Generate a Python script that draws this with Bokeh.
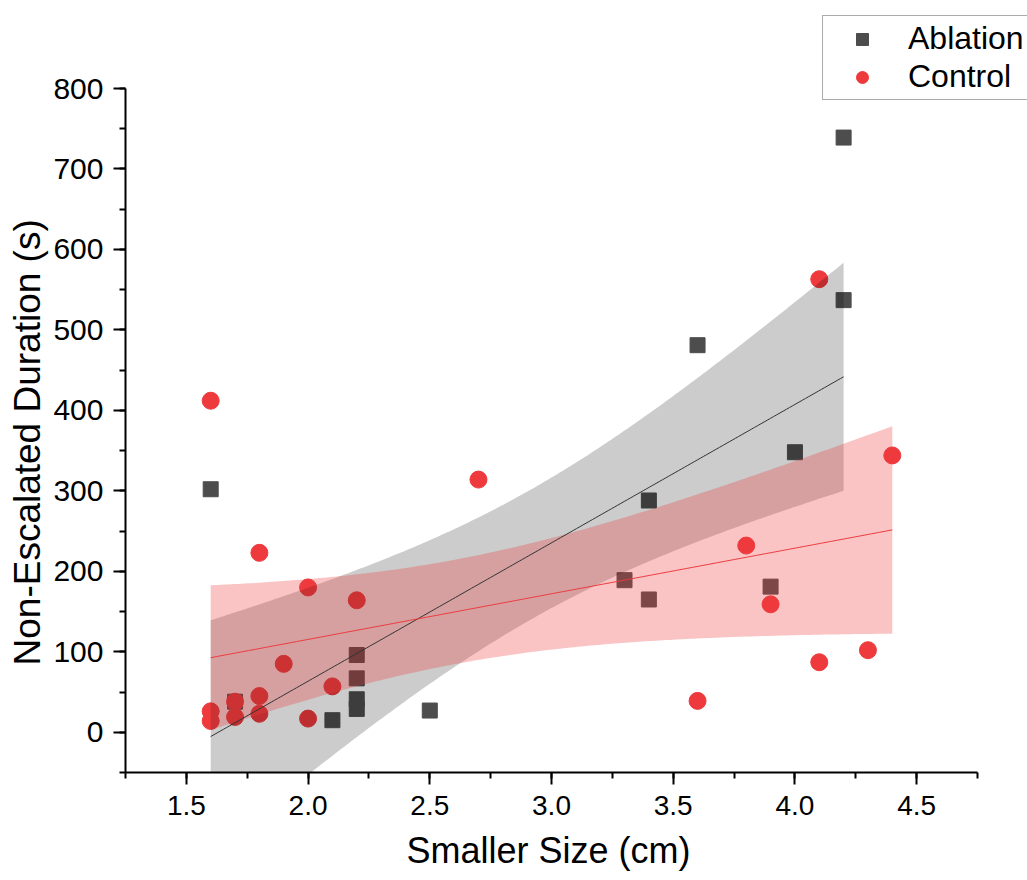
import numpy as np
from bokeh.plotting import figure
from bokeh.models import (SingleIntervalTicker, Legend, LegendItem, Range1d,
                          PrintfTickFormatter, Title)
from bokeh.embed import file_html
from bokeh.resources import INLINE

# ---- data ----
ablation_x = [1.6, 1.7, 2.1, 2.2, 2.2, 2.2, 2.2, 2.5, 3.3, 3.4, 3.4, 3.6, 3.9, 4.0, 4.2, 4.2]
ablation_y = [302, 38, 15, 96, 67, 41, 29, 27, 189, 288, 165, 481, 181, 348, 739, 537]

control_x = [1.6, 1.6, 1.6, 1.7, 1.7, 1.8, 1.8, 1.8, 1.9, 2.0, 2.0, 2.1, 2.2, 2.7,
             3.6, 3.8, 3.9, 4.1, 4.1, 4.3, 4.4]
control_y = [412, 26, 14, 38, 19, 223, 45, 23, 85, 180, 17, 57, 164, 314,
             39, 232, 159, 563, 87, 102, 344]

series_names = ["Ablation", "Control"]
x_label = "Smaller Size (cm)"
y_label = "Non-Escalated Duration (s)"
x_axis_span = (1.25, 4.75)
y_axis_span = (-50, 800)

# two-sided 95% Student t critical values
T975 = {1: 12.706, 2: 4.303, 3: 3.182, 4: 2.776, 5: 2.571, 6: 2.447, 7: 2.365, 8: 2.306,
        9: 2.262, 10: 2.228, 11: 2.201, 12: 2.179, 13: 2.160, 14: 2.145, 15: 2.131,
        16: 2.120, 17: 2.110, 18: 2.101, 19: 2.093, 20: 2.086, 21: 2.080, 22: 2.074,
        23: 2.069, 24: 2.064, 25: 2.060, 26: 2.056, 27: 2.052, 28: 2.048, 29: 2.045, 30: 2.042}


def fit_band(xs, ys):
    x = np.asarray(xs, float)
    y = np.asarray(ys, float)
    n = len(x)
    mx, my = x.mean(), y.mean()
    sxx = ((x - mx) ** 2).sum()
    sxy = ((x - mx) * (y - my)).sum()
    b = sxy / sxx
    a = my - b * mx
    resid = y - (a + b * x)
    s = np.sqrt((resid ** 2).sum() / (n - 2))
    t = T975[n - 2]
    gx = np.linspace(x.min(), x.max(), 200)
    gy = a + b * gx
    half = t * s * np.sqrt(1.0 / n + (gx - mx) ** 2 / sxx)
    return gx, gy, gy - half, gy + half


FONT = "Liberation Sans"
GRAY = "#4d4d4d"
RED = "#ee3a3d"

# layout in pixels: axes run from x=125 to 977 and y=88 to 772;
# the frame is extended to the top/right so the legend can sit there.
W, H = 1027, 880
L, R_AX, T_AX, B = 125, 977, 88, 772
xpp = (R_AX - L) / (x_axis_span[1] - x_axis_span[0])
ypp = (B - T_AX) / (y_axis_span[1] - y_axis_span[0])
x_end = x_axis_span[1] + (W - R_AX) / xpp
y_end = y_axis_span[1] + T_AX / ypp

p = figure(width=W, height=H, output_backend="svg", toolbar_location=None,
           x_range=Range1d(x_axis_span[0], x_end), y_range=Range1d(y_axis_span[0], y_end),
           min_border_left=L, min_border_right=0, min_border_top=0,
           min_border_bottom=H - B)
p.background_fill_color = "white"
p.border_fill_color = "white"
p.outline_line_color = None
p.xgrid.visible = False
p.ygrid.visible = False

r_abl = p.scatter(ablation_x, ablation_y, marker="square", size=15,
                  fill_color=GRAY, line_color=GRAY)
r_ctl = p.scatter(control_x, control_y, marker="circle", size=17,
                  fill_color=RED, line_color=RED)

gxa, gya, loa, hia = fit_band(ablation_x, ablation_y)
gxc, gyc, loc, hic = fit_band(control_x, control_y)

p.varea(x=gxa, y1=loa, y2=hia, fill_color="black", fill_alpha=0.2)
p.varea(x=gxc, y1=loc, y2=hic, fill_color=RED, fill_alpha=0.3)
p.line(gxa, gya, line_color="#333333", line_width=1)
p.line(gxc, gyc, line_color=RED, line_width=1)

p.xaxis.ticker = SingleIntervalTicker(interval=0.5, num_minor_ticks=2)
p.yaxis.ticker = SingleIntervalTicker(interval=100, num_minor_ticks=2)
p.xaxis.formatter = PrintfTickFormatter(format="%.1f")
p.xaxis.bounds = x_axis_span
p.yaxis.bounds = y_axis_span

for ax in (p.xaxis[0], p.yaxis[0]):
    ax.axis_line_color = "black"
    ax.axis_line_width = 2
    ax.major_tick_line_color = "black"
    ax.major_tick_line_width = 2
    ax.minor_tick_line_color = "black"
    ax.minor_tick_line_width = 2
    ax.major_tick_in = 0
    ax.major_tick_out = 12
    ax.minor_tick_in = 0
    ax.minor_tick_out = 6
    ax.major_label_text_font = FONT
    ax.major_label_text_color = "black"

p.xaxis.major_label_text_font_size = "28px"
p.yaxis.major_label_text_font_size = "30px"
p.xaxis.major_label_standoff = 11
p.yaxis.major_label_standoff = 10

# axis titles as side titles so they can be placed like the reference
xt = Title(text=x_label, align="left", offset=281, standoff=20,
           text_font=FONT, text_font_size="36px", text_font_style="normal",
           text_color="black")
yt = Title(text=y_label, align="left", offset=107, standoff=5,
           text_font=FONT, text_font_size="37px", text_font_style="normal",
           text_color="black")
p.add_layout(xt, "below")
p.add_layout(yt, "left")

legend = Legend(items=[LegendItem(label=series_names[0], renderers=[r_abl]),
                       LegendItem(label=series_names[1], renderers=[r_ctl])],
                location=(697, B - 100), orientation="vertical")
legend.label_text_font = FONT
legend.label_text_font_size = "32px"
legend.label_text_color = "black"
legend.glyph_width = 70
legend.glyph_height = 30
legend.label_height = 30
legend.label_standoff = 11
legend.padding = 4
legend.spacing = 1
legend.margin = 0
legend.border_line_color = "#555555"
legend.border_line_width = 1
legend.background_fill_color = "white"
legend.background_fill_alpha = 1.0
p.add_layout(legend, "center")

open("out.html", "w").write(file_html(p, INLINE))
